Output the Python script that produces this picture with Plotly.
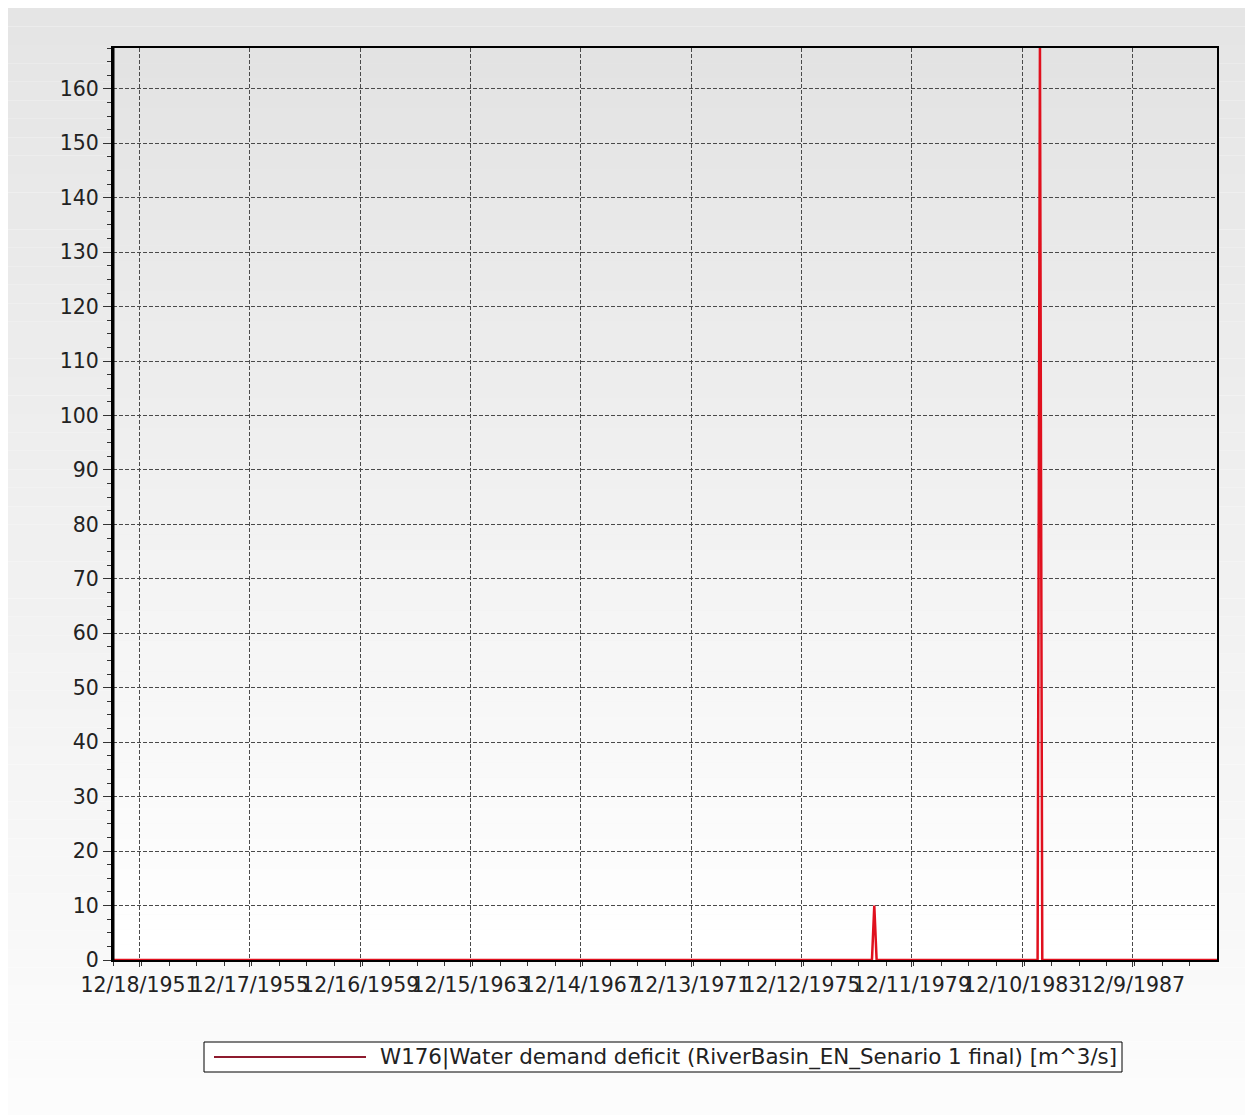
import plotly.graph_objects as go

# monthly series, zero everywhere except two deficit events
dates = ["1951-01-01", "1978-07-01", "1978-08-01", "1978-09-01",
         "1984-07-01", "1984-08-01", "1984-09-01", "1990-12-31"]
deficit = [0, 0, 10, 0, 0, 168, 0, 0]

series_name = "W176|Water demand deficit (RiverBasin_EN_Senario 1 final) [m^3/s]"
x_tick_start = "1951-12-18"
tick_step_days = 1460
x_range = ["1951-01-01", "1990-12-31"]
y_range = [0, 167.5]

# page is shifted by the body margin, so size the figure to compensate
OFF = 8
W, H = 1253 - OFF, 1120 - OFF
L, R, T, B = 113 - OFF, 36, 48 - OFF, 160
pw, ph = W - L - R, H - T - B


def px_x(px):
    # px in page coordinates
    return (px - OFF - L) / pw


def px_y(py):
    return (H - B - (py - OFF)) / ph


def grey(v):
    v = int(round(v))
    return f"rgb({v},{v},{v})"


shapes = []

# outer background gradient
n = 60
top, bottom = 8, 1115
for i in range(n):
    y0 = top + (bottom - top) * i / n
    y1 = top + (bottom - top) * (i + 1) / n
    c = 229 + (252 - 229) * i / (n - 1)
    shapes.append(dict(type="rect", xref="paper", yref="paper",
                       x0=px_x(8), x1=px_x(1248), y0=px_y(y1), y1=px_y(y0),
                       fillcolor=grey(c), line=dict(width=0), layer="below"))

# plot area gradient
for i in range(n):
    y0 = i / n
    y1 = (i + 1) / n
    c = 255 - (255 - 227) * i / (n - 1)
    shapes.append(dict(type="rect", xref="paper", yref="paper",
                       x0=0, x1=1, y0=y0, y1=y1,
                       fillcolor=grey(c), line=dict(width=0), layer="below"))

# heavier left frame line
shapes.append(dict(type="line", xref="paper", yref="paper", x0=0, x1=0, y0=0, y1=1,
                   line=dict(color="black", width=3)))

# legend box and sample line
shapes.append(dict(type="rect", xref="paper", yref="paper",
                   x0=px_x(204), x1=px_x(1122), y0=px_y(1072), y1=px_y(1042),
                   fillcolor="white", line=dict(color="black", width=1)))
shapes.append(dict(type="line", xref="paper", yref="paper",
                   x0=px_x(214), x1=px_x(366), y0=px_y(1057), y1=px_y(1057),
                   line=dict(color="#8e1b2e", width=2)))

fig = go.Figure()
fig.add_trace(go.Scatter(x=dates, y=deficit, mode="lines", name=series_name,
                         line=dict(color="#e0101e", width=2.5), showlegend=False))

grid = dict(showgrid=True, gridcolor="#4a4a4a", gridwidth=1, griddash="4px,2px",
            showline=True, linecolor="black", linewidth=2, mirror=True,
            ticks="outside", tickcolor="#333", layer="below traces",
            tickfont=dict(family="DejaVu Sans", size=20.5, color="#222"),
            zeroline=False)

fig.update_layout(
    width=W, height=H,
    margin=dict(l=L, r=R, t=T, b=B),
    paper_bgcolor="white",
    plot_bgcolor="rgba(0,0,0,0)",
    shapes=shapes,
    annotations=[dict(text=series_name, xref="paper", yref="paper",
                      x=px_x(378), y=px_y(1057), xanchor="left", yanchor="middle",
                      showarrow=False,
                      font=dict(family="DejaVu Sans", size=21.4, color="#222"))],
    xaxis=dict(**grid, type="date", range=x_range, tick0=x_tick_start,
               dtick=tick_step_days * 86400000, tickformat="%-m/%-d/%Y",
               tickangle=0, ticklen=5,
               minor=dict(dtick=tick_step_days * 86400000 / 4, ticks="outside",
                          ticklen=4, tickcolor="#333", showgrid=False)),
    yaxis=dict(**grid, range=y_range, dtick=10, tick0=0, ticklen=8,
               minor=dict(dtick=2.5, ticks="outside", ticklen=4,
                          tickcolor="#333", showgrid=False)),
)

fig.write_html("out.html")
